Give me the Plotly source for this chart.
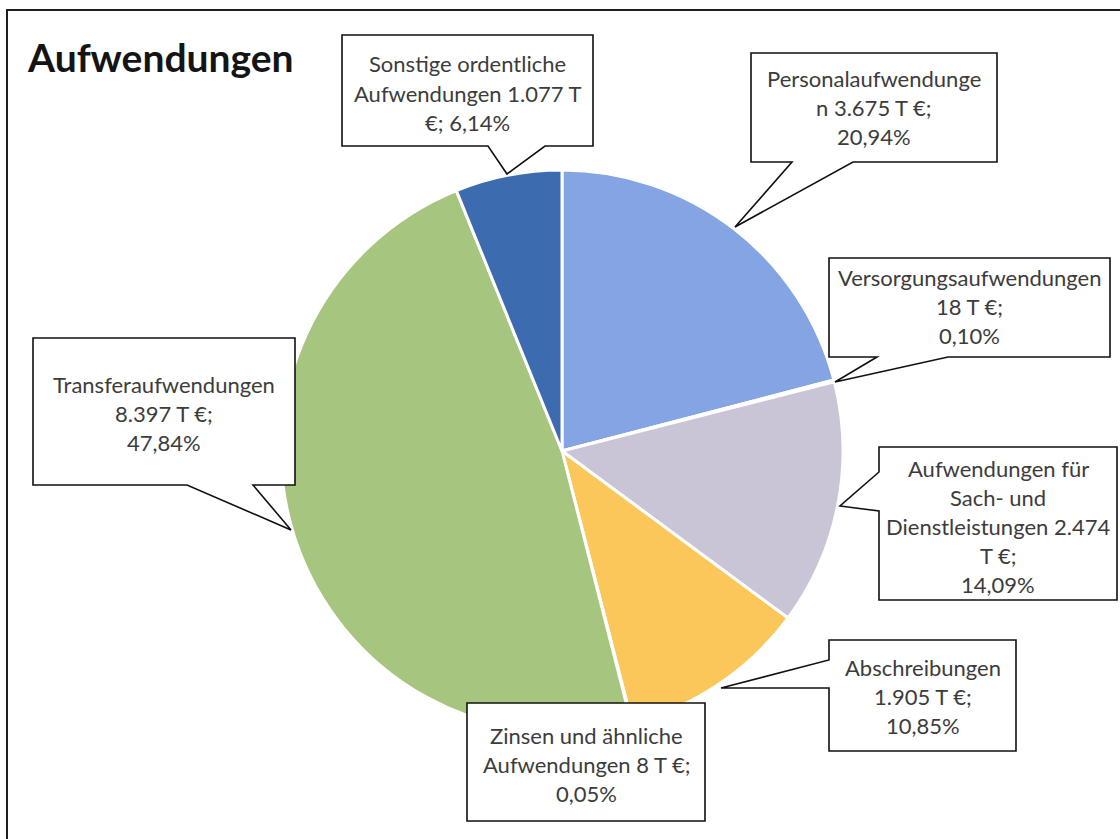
import plotly.graph_objects as go

# ---------------- data ----------------
categories = [
    "Personalaufwendungen",
    "Versorgungsaufwendungen",
    "Aufwendungen für Sach- und Dienstleistungen",
    "Abschreibungen",
    "Zinsen und ähnliche Aufwendungen",
    "Transferaufwendungen",
    "Sonstige ordentliche Aufwendungen",
]
values_teur = [3675, 18, 2474, 1905, 8, 8397, 1077]
label_templates = [
    ["Personalaufwendunge", "n {v} T €;", "{p}"],
    ["Versorgungsaufwendungen", "{v} T €;", "{p}"],
    ["Aufwendungen für", "Sach- und", "Dienstleistungen {v}", "T €;", "{p}"],
    ["Abschreibungen", "{v} T €;", "{p}"],
    ["Zinsen und ähnliche", "Aufwendungen {v} T €;", "{p}"],
    ["Transferaufwendungen", "{v} T €;", "{p}"],
    ["Sonstige ordentliche", "Aufwendungen {v} T", "€; {p}"],
]
title_text = "Aufwendungen"

# ---------------- style / layout ----------------
W, H = 1120, 839
colors = ["#84a4e3", "#b9b3cc", "#c9c4d6", "#fbc65a", "#d0d0d0", "#a6c57e", "#3d6bb0"]
FONT = "Lato, 'Open Sans', sans-serif"
TEXT_COLOR = "#3c3c3c"
LINE_SP = 29.2

pie_cx, pie_cy, pie_r = 562, 451, 281

# callout geometry in pixels: box (x0, y0, x1, y1), side of wedge, wedge points, first text line y
callouts = [
    dict(box=(751, 53, 997, 162), side="bottom", wedge=[(853, 162), (735, 227), (792, 162)], y0=78),
    dict(box=(829, 258, 1110, 357), side="bottom", wedge=[(948, 357), (835, 382), (877, 357)], y0=277),
    dict(box=(879, 447, 1117, 600), side="left", wedge=[(879, 511), (840, 506), (879, 472)], y0=468),
    dict(box=(829, 640, 1016, 751), side="left", wedge=[(829, 688), (721, 688), (829, 660)], y0=667),
    dict(box=(467, 703, 705, 821), side="none", wedge=[], y0=735),
    dict(box=(33, 338, 295, 485), side="bottom", wedge=[(253, 485), (291, 530), (187, 485)], y0=384),
    dict(box=(342, 35, 593, 146), side="bottom", wedge=[(545, 146), (507, 174), (488, 146)], y0=64),
]


def px(x):
    return x / W


def py(y):
    return 1 - y / H


def de_int(v):
    return f"{v:,}".replace(",", ".")


def de_pct(v, total):
    return f"{100 * v / total:.2f}".replace(".", ",") + "%"


total = sum(values_teur)

fig = go.Figure(
    go.Pie(
        labels=categories,
        values=values_teur,
        sort=False,
        direction="clockwise",
        rotation=0,
        marker=dict(colors=colors, line=dict(color="white", width=3)),
        textinfo="none",
        hoverinfo="label+value+percent",
        showlegend=False,
        domain=dict(
            x=[px(pie_cx - pie_r), px(pie_cx + pie_r)],
            y=[py(pie_cy + pie_r), py(pie_cy - pie_r)],
        ),
    )
)

shapes = []
annotations = []

# outer frame
shapes.append(dict(type="rect", xref="paper", yref="paper",
                   x0=px(7), x1=px(1130), y0=py(850), y1=py(10),
                   line=dict(color="#1e1e1e", width=2), fillcolor="rgba(0,0,0,0)", layer="above"))

for i, c in enumerate(callouts):
    x0, y0, x1, y1 = c["box"]
    if c["side"] == "bottom":
        pts = [(x0, y0), (x1, y0), (x1, y1)] + c["wedge"] + [(x0, y1)]
    elif c["side"] == "left":
        pts = [(x0, y0), (x1, y0), (x1, y1), (x0, y1)] + c["wedge"]
    else:
        pts = [(x0, y0), (x1, y0), (x1, y1), (x0, y1)]
    path = "M " + " L ".join(f"{px(a):.5f},{py(b):.5f}" for a, b in pts) + " Z"
    shapes.append(dict(type="path", xref="paper", yref="paper", path=path,
                       fillcolor="white", line=dict(color="#111111", width=1.6), layer="above"))
    v = de_int(values_teur[i])
    p = de_pct(values_teur[i], total)
    lines = [t.format(v=v, p=p) for t in label_templates[i]]
    cx = (x0 + x1) / 2
    for k, line in enumerate(lines):
        annotations.append(dict(xref="paper", yref="paper", x=px(cx), y=py(c["y0"] + k * LINE_SP),
                                text=line, showarrow=False, xanchor="center", yanchor="middle",
                                font=dict(family=FONT, size=22, color=TEXT_COLOR)))

annotations.append(dict(xref="paper", yref="paper", x=px(25), y=py(57), text=f"<b>{title_text}</b>",
                        showarrow=False, xanchor="left", yanchor="middle",
                        font=dict(family=FONT, size=39, color="#141414")))

fig.update_layout(
    width=W, height=H,
    margin=dict(l=0, r=0, t=0, b=0),
    paper_bgcolor="white", plot_bgcolor="white",
    shapes=shapes, annotations=annotations,
)

fig.write_html(
    "out.html",
    config={"displayModeBar": False},
    post_script="document.body.style.margin='0';document.body.style.overflow='hidden';",
)
